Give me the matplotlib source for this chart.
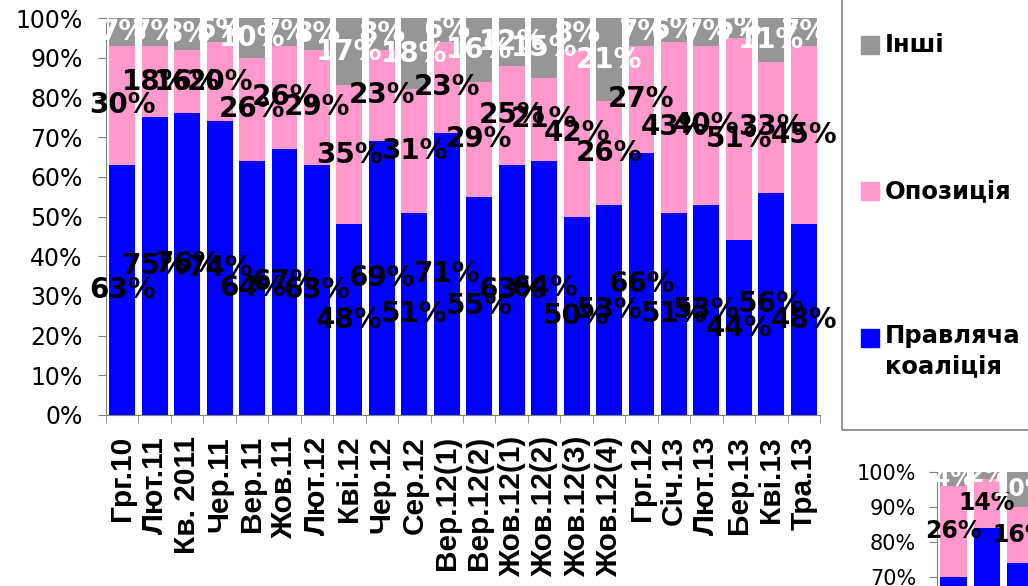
import matplotlib.pyplot as plt
from matplotlib.patches import Rectangle
import numpy as np

# data
categories = ['Грг.10', 'Лют.11', 'Кв. 2011', 'Чер.11', 'Вер.11', 'Жов.11', 'Лют.12',
              'Кві.12', 'Чер.12', 'Сер.12', 'Вер.12(1)', 'Вер.12(2)', 'Жов.12(1)',
              'Жов.12(2)', 'Жов.12(3)', 'Жов.12(4)', 'Грг.12', 'Січ.13', 'Лют.13',
              'Бер.13', 'Кві.13', 'Тра.13']
coalition = [63, 75, 76, 74, 64, 67, 63, 48, 69, 51, 71, 55, 63, 64, 50, 53, 66, 51, 53, 44, 56, 48]
opposition = [30, 18, 16, 20, 26, 26, 29, 35, 23, 31, 23, 29, 25, 21, 42, 26, 27, 43, 40, 51, 33, 45]
others = [7, 7, 8, 6, 10, 7, 8, 17, 8, 18, 6, 16, 12, 15, 8, 21, 7, 6, 7, 5, 11, 7]

# second (cut off) chart in the lower right corner
inset_coalition = [70, 84, 74]
inset_opposition = [26, 14, 16]
inset_others = [4, 2, 10]

series_names = ['Правляча\nкоаліція', 'Опозиція', 'Інші']
colors = ['#0000ff', '#ff99cc', '#969696']
label_colors = ['black', 'black', 'white']

W, H = 1028, 586


def box(x0, y_top, x1, y_bottom):
    # pixel box (from top-left) -> figure fraction
    return [x0 / W, (H - y_bottom) / H, (x1 - x0) / W, (y_bottom - y_top) / H]


def stacked(ax, series, fs):
    x = np.arange(len(series[0]))
    bottom = np.zeros(len(x))
    for vals, c, lc in zip(series, colors, label_colors):
        vals = np.array(vals)
        ax.bar(x, vals, 0.8, bottom=bottom, color=c, zorder=1)
        for xi, b, v in zip(x, bottom, vals):
            ax.text(xi, b + v / 2, f'{v}%', ha='center', va='center', fontsize=fs,
                    fontweight='bold', color=lc, zorder=3)
        bottom += vals
    ax.set_ylim(0, 100)
    ax.set_xlim(-0.5, len(x) - 0.5)
    ax.set_yticks(np.arange(0, 101, 10))
    ax.set_yticklabels([f'{v}%' for v in range(0, 101, 10)])
    for s in ['top', 'right']:
        ax.spines[s].set_visible(False)
    for s in ['left', 'bottom']:
        ax.spines[s].set_color('#808080')
    ax.tick_params(axis='y', length=6, color='#808080', pad=11)
    ax.set_facecolor('none')


fig = plt.figure(figsize=(W / 100, H / 100), dpi=100)

ax = fig.add_axes(box(106, 18, 820, 415))
stacked(ax, [coalition, opposition, others], 20)
ax.tick_params(axis='y', labelsize=17)
ax.set_xticks(np.arange(len(categories)))
ax.set_xticklabels(categories, rotation=90, fontsize=21.5, fontweight='bold',
                   family='Liberation Sans')
ax.set_xticks(np.arange(len(categories) + 1) - 0.5, minor=True)
ax.tick_params(axis='x', which='major', length=0, pad=15)
ax.tick_params(axis='x', which='minor', length=6, color='#808080')

# legend drawn as a framed box running off the top/right edge
fig.patches.append(Rectangle((842 / W, (H - 430) / H), 0.3, 1.0, transform=fig.transFigure,
                             facecolor='none', edgecolor='#808080', lw=1.2))
legend_rows = [(45, 2), (191, 1), (338, 0)]
for yc, i in legend_rows:
    fig.patches.append(Rectangle((861 / W, (H - yc - 9) / H), 18 / W, 18 / H,
                                 transform=fig.transFigure, color=colors[i]))
    fig.text(885 / W, (H - yc) / H, series_names[i], fontsize=17.5, fontweight='bold',
             va='top' if '\n' in series_names[i] else 'center', ha='left',
             linespacing=1.3)
# move multi-line label so its first line is centred on the marker
fig.texts[-1].set_y((H - 338 + 14) / H)

ax2 = fig.add_axes(box(937, 472, 1037, 822))
stacked(ax2, [inset_coalition, inset_opposition, inset_others], 17)
ax2.tick_params(axis='y', labelsize=15, pad=9)
ax2.set_xticks([])
ax2.spines['bottom'].set_visible(False)

fig.savefig('out.png', dpi=100)
